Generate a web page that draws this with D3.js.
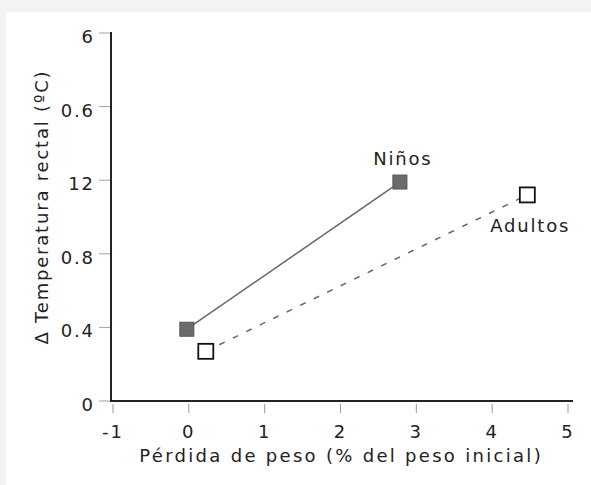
<!DOCTYPE html>
<html><head><meta charset="utf-8">
<script src="https://cdn.jsdelivr.net/npm/d3@7"></script>
<style>
html,body{margin:0;padding:0;background:#f3f3f3;}
svg{display:block;}
text{font-family:"DejaVu Sans",Verdana,sans-serif;fill:#222;}
</style></head>
<body>
<svg id="c" width="591" height="485"></svg>
<script>
// Data
const xTicks = [-1, 0, 1, 2, 3, 4, 5];
const yTickValues = [0, 0.4, 0.8, 1.2, 1.6, 2.0];
const yTickLabels = ["0", "0.4", "0.8", "12", "0.6", "6"];
const ninosX = [0, 2.81];
const ninosY = [0.39, 1.19];
const adultosX = [0.25, 4.49];
const adultosY = [0.27, 1.12];
const seriesNames = ["Niños", "Adultos"];
const xTitle = "Pérdida de peso (% del peso inicial)";
const yTitle = "\u0394 Temperatura rectal (ºC)";

const LS = 1.8; // letter spacing
const LST = 2.3; // title letter spacing
const svg = d3.select("#c");
svg.append("rect").attr("x", 6).attr("y", 12).attr("width", 585).attr("height", 473).attr("fill", "#fff");

const x = d3.scaleLinear().domain([-1, 5]).range([111, 566]);
const y = d3.scaleLinear().domain([0, 2.0]).range([401, 33]);

// X axis
const gx = svg.append("g").attr("transform", "translate(0,401)");
gx.append("line").attr("x1", 111).attr("x2", 573).attr("stroke", "#222").attr("stroke-width", 2);
gx.selectAll(".t").data(xTicks).enter().append("line")
  .attr("x1", d => x(d) + 2).attr("x2", d => x(d) + 2).attr("y1", 3).attr("y2", 12)
  .attr("stroke", "#999").attr("stroke-width", 1);
gx.selectAll(".l").data(xTicks).enter().append("text")
  .attr("x", d => x(d) + 1 + LS / 2).attr("y", 37).attr("text-anchor", "middle")
  .attr("font-size", 18).attr("letter-spacing", LS).text(d => d);
svg.append("text").attr("x", 340 + LST / 2).attr("y", 462).attr("text-anchor", "middle")
  .attr("font-size", 18).attr("letter-spacing", LST).text(xTitle);

// Y axis
const gy = svg.append("g");
gy.append("line").attr("x1", 111).attr("x2", 111).attr("y1", 32).attr("y2", 402).attr("stroke", "#222").attr("stroke-width", 2);
gy.selectAll(".t").data(yTickValues).enter().append("line")
  .attr("x1", 99).attr("x2", 110).attr("y1", d => y(d)).attr("y2", d => y(d))
  .attr("stroke", "#8aa").attr("stroke-width", 1);
gy.selectAll(".l").data(yTickValues).enter().append("text")
  .attr("x", 93 + LS).attr("y", d => y(d) + 10).attr("text-anchor", "end")
  .attr("font-size", 18).attr("letter-spacing", LS).text((d, i) => yTickLabels[i]);
svg.append("text").attr("transform", "translate(48," + (208 - LS / 2) + ") rotate(-90)")
  .attr("text-anchor", "middle").attr("font-size", 18).attr("letter-spacing", LS).text(yTitle);

// Lines
const ninos = ninosX.map((v, i) => [v, ninosY[i]]);
const adultos = adultosX.map((v, i) => [v, adultosY[i]]);
const line = d3.line().x(d => x(d[0])).y(d => y(d[1]));
svg.append("path").attr("d", line(ninos)).attr("fill", "none").attr("stroke", "#666").attr("stroke-width", 1.5);
svg.append("path").attr("d", line(adultos)).attr("fill", "none").attr("stroke", "#666").attr("stroke-width", 1.5)
  .attr("stroke-dasharray", "6,9");

// Markers
const sn = 14, sa = 15;
svg.selectAll(".mn").data(ninos).enter().append("rect")
  .attr("x", d => x(d[0]) - sn / 2).attr("y", d => y(d[1]) - sn / 2).attr("width", sn).attr("height", sn)
  .attr("fill", "#6b6b6b").attr("stroke", "#555").attr("stroke-width", 1);
svg.selectAll(".ma").data(adultos).enter().append("rect")
  .attr("x", d => x(d[0]) - sa / 2).attr("y", d => y(d[1]) - sa / 2).attr("width", sa).attr("height", sa)
  .attr("fill", "#fff").attr("stroke", "#111").attr("stroke-width", 1.8);

// Series labels
svg.append("text").attr("x", x(ninosX[1]) + 2 + LS / 2).attr("y", y(ninosY[1]) - 17).attr("text-anchor", "middle")
  .attr("font-size", 18).attr("letter-spacing", LS).text(seriesNames[0]);
svg.append("text").attr("x", x(adultosX[1]) + 2 + LS / 2).attr("y", y(adultosY[1]) + 37).attr("text-anchor", "middle")
  .attr("font-size", 18).attr("letter-spacing", LS).text(seriesNames[1]);
</script>
</body></html>
